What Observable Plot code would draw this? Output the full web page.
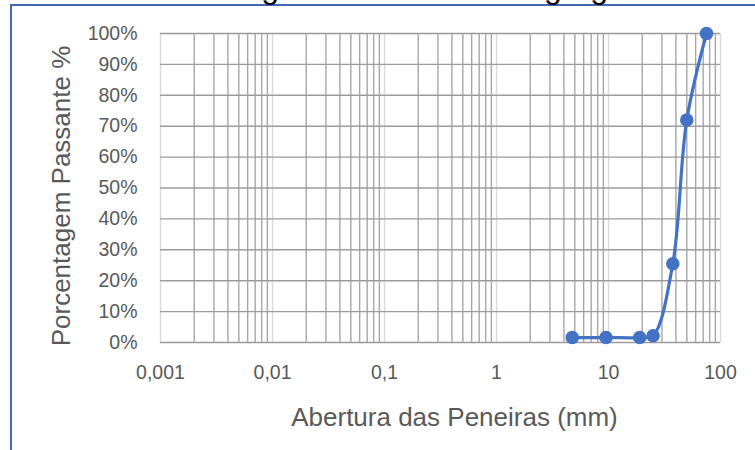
<!DOCTYPE html>
<html>
<head>
<meta charset="utf-8">
<script src="https://cdn.jsdelivr.net/npm/d3@7"></script>
<script src="https://cdn.jsdelivr.net/npm/@observablehq/plot@0.6"></script>
<style>
  html, body { margin: 0; padding: 0; background: #fff; overflow: hidden; width: 755px; height: 450px; }
  #wrap { position: relative; width: 755px; height: 450px; overflow: hidden; font-family: "Liberation Sans", Arial, sans-serif; }
  #frame { position: absolute; left: 10px; top: 4px; width: 900px; height: 600px; border-left: 2px solid #4268b2; border-top: 2px solid #4268b2; box-sizing: border-box; }
  #title { position: absolute; left: 167px; top: -29.5px; font-size: 32px; line-height: 32px; color: #000; white-space: nowrap; margin: 0; font-weight: normal; }
  #chart { position: absolute; left: 0; top: 0; }
</style>
</head>
<body>
<div id="wrap">
  <div id="frame"></div>
  <h1 id="title">Curva granulométrica do agregado</h1>
  <div id="chart"></div>
</div>
<script>
// Sieve openings (mm) and percent passing
const sieves = [4.75, 9.5, 19, 25, 37.5, 50, 75];
const passing = [1.6, 1.6, 1.6, 2.2, 25.5, 72, 100];

// Axis ticks
const xDecades = [0.001, 0.01, 0.1, 1, 10, 100];
const xTickLabels = ["0,001", "0,01", "0,1", "1", "10", "100"];
const yTicks = [0, 10, 20, 30, 40, 50, 60, 70, 80, 90, 100];

const xTitle = "Abertura das Peneiras (mm)";
const yTitle = "Porcentagem Passante %";

const data = sieves.map((s, i) => ({x: s, y: passing[i]}));

// minor gridlines at 2..9 within each decade
const xMinor = [];
for (const d of xDecades.slice(0, -1)) for (let k = 2; k <= 9; k++) xMinor.push(+(d * k).toPrecision(6));

const labelFor = v => xTickLabels[xDecades.findIndex(d => Math.abs(Math.log10(d) - Math.log10(v)) < 1e-9)];

const chart = Plot.plot({
  width: 755,
  height: 450,
  marginLeft: 160,
  marginRight: 35,
  marginTop: 33,
  marginBottom: 108,
  style: {fontFamily: "'Liberation Sans', Arial, sans-serif", background: "transparent", overflow: "visible"},
  x: {type: "log", domain: [0.001, 100]},
  y: {domain: [0, 100]},
  marks: [
    Plot.ruleX(xMinor, {stroke: "#a6a6a6", strokeWidth: 1.4}),
    Plot.ruleX(xDecades, {stroke: "#d9d9d9", strokeWidth: 1.4}),
    Plot.ruleY(yTicks, {stroke: "#9b9b9b", strokeWidth: 1.4}),
    Plot.axisX(xDecades, {tickFormat: labelFor, tickSize: 0, tickPadding: 23, fontSize: 19.5, fill: "#595959", label: null}),
    Plot.axisY(yTicks, {tickFormat: d => d + "%", tickSize: 0, tickPadding: 23, fontSize: 19.5, fill: "#595959", label: null}),
    Plot.text([xTitle], {frameAnchor: "bottom", lineAnchor: "middle", textAnchor: "middle", dx: 14, dy: 75, fontSize: 26, fill: "#595959"}),
    Plot.text([yTitle], {frameAnchor: "left", rotate: -90, lineAnchor: "middle", textAnchor: "middle", dx: -99, dy: 8, fontSize: 26, fill: "#595959"}),
    Plot.line(data, {x: "x", y: "y", curve: "catmull-rom", stroke: "#4472C4", strokeWidth: 3.2}),
    Plot.dot(data, {x: "x", y: "y", r: 6.8, fill: "#4472C4", stroke: "none"})
  ]
});
document.getElementById("chart").appendChild(chart);
</script>
</body>
</html>
